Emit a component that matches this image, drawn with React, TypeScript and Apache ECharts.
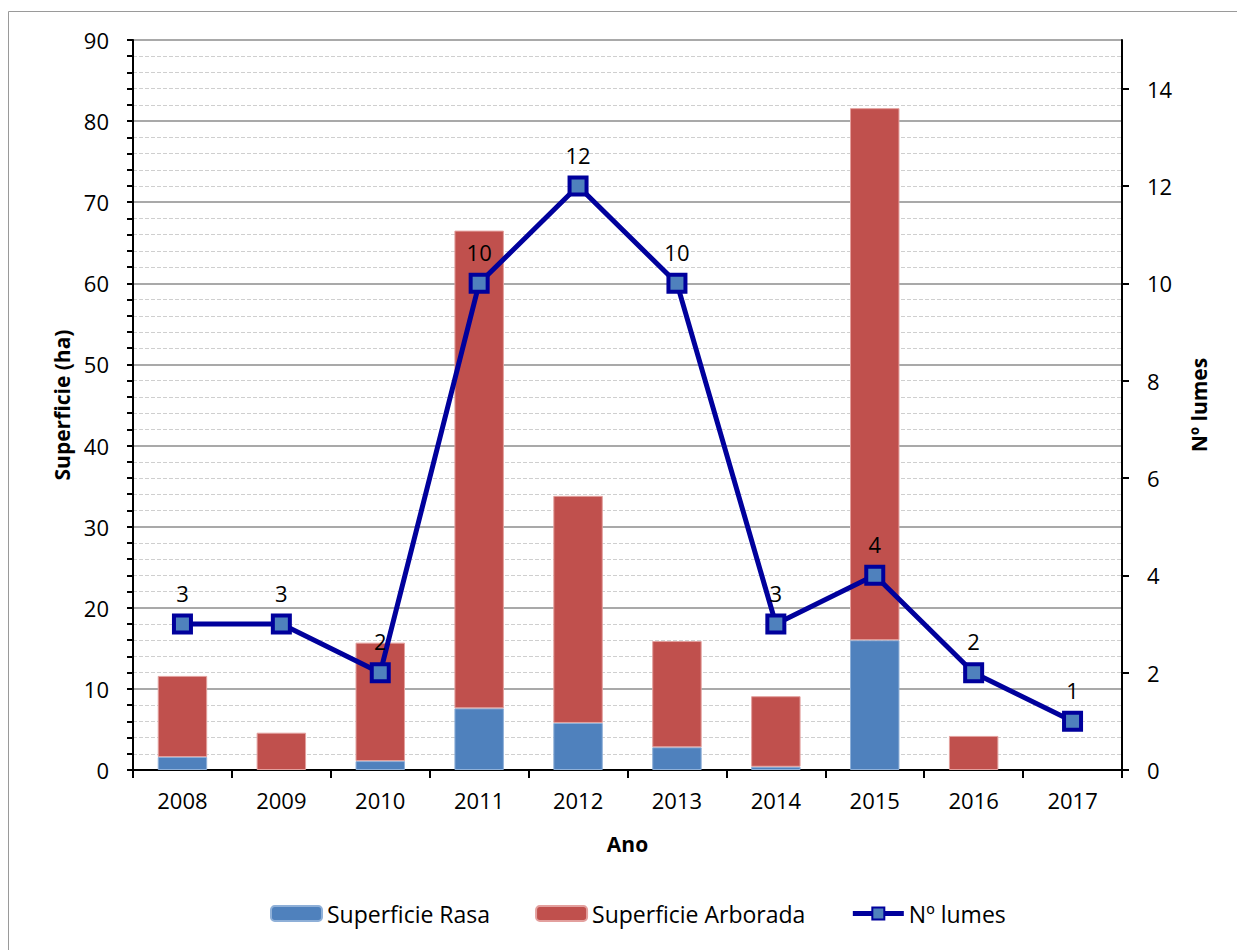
import React, { useEffect, useRef } from "react";
import * as echarts from "echarts";

const years = ["2008", "2009", "2010", "2011", "2012", "2013", "2014", "2015", "2016", "2017"];
const superficieRasa = [1.6, 0, 1.1, 7.6, 5.8, 2.8, 0.4, 16.0, 0, 0];
const superficieArborada = [10.0, 4.6, 14.6, 58.9, 28.0, 13.1, 8.7, 65.6, 4.2, 0];
const numLumes = [3, 3, 2, 10, 12, 10, 3, 4, 2, 1];

const FONT = "Open Sans";

export default function App() {
  const ref = useRef<HTMLDivElement>(null);
  useEffect(() => {
    if (!ref.current) return;
    const chart = echarts.init(ref.current, null, { renderer: "svg" });
    const nz = (arr: number[]) => arr.map((v) => (v === 0 ? null : v));
    chart.setOption({
      animation: false,
      backgroundColor: "#ffffff",
      textStyle: { fontFamily: FONT, color: "#000" },
      graphic: [
        {
          type: "rect",
          shape: { x: 8.5, y: 11.5, width: 1400, height: 1100 },
          style: { fill: "none", stroke: "#9a9a9a", lineWidth: 1 },
          silent: true,
          z: -10,
        },
      ],
      grid: { left: 133, right: 115, top: 40, bottom: 180 },
      legend: {
        bottom: 20,
        left: 265,
        itemWidth: 51,
        itemHeight: 15,
        itemGap: 45,
        textStyle: { fontFamily: FONT, fontSize: 23, color: "#000" },
        data: [
          { name: "Superficie Rasa" },
          { name: "Superficie Arborada" },
          { name: "Nº lumes", lineStyle: { width: 5, color: "#00009C" } },
        ],
      },
      xAxis: {
        type: "category",
        data: years,
        name: "Ano",
        nameLocation: "middle",
        nameGap: 63,
        nameTextStyle: { fontFamily: FONT, fontSize: 21, fontWeight: "bold", color: "#000" },
        axisLine: { lineStyle: { color: "#000", width: 2 } },
        axisTick: { show: true, alignWithLabel: false, length: 8, lineStyle: { color: "#000", width: 2 } },
        axisLabel: { fontFamily: FONT, fontSize: 22, color: "#000", margin: 19 },
      },
      yAxis: [
        {
          type: "value",
          min: 0,
          max: 90,
          interval: 10,
          name: "Superficie (ha)",
          nameLocation: "middle",
          nameGap: 56,
          nameTextStyle: { fontFamily: FONT, fontSize: 21, fontWeight: "bold", color: "#000" },
          axisLine: { show: true, lineStyle: { color: "#000", width: 2 } },
          axisTick: { show: true, length: 6, lineStyle: { color: "#000", width: 2 } },
          minorTick: { show: true, splitNumber: 5, length: 6, lineStyle: { color: "#000", width: 2 } },
          axisLabel: { fontFamily: FONT, fontSize: 22, color: "#000", margin: 24 },
          splitLine: { show: true, lineStyle: { color: "#8c8c8c", width: 1.5 } },
          minorSplitLine: { show: true, lineStyle: { color: "#cfcfcf", width: 1, type: "dashed" } },
        },
        {
          type: "value",
          min: 0,
          max: 15,
          interval: 2,
          position: "right",
          name: "Nº lumes",
          nameLocation: "middle",
          nameGap: 66,
          nameTextStyle: { fontFamily: FONT, fontSize: 21, fontWeight: "bold", color: "#000" },
          axisLine: { show: true, lineStyle: { color: "#000", width: 2 } },
          axisTick: { show: true, length: 7, lineStyle: { color: "#000", width: 2 } },
          axisLabel: { fontFamily: FONT, fontSize: 22, color: "#000", margin: 25, showMaxLabel: false },
          splitLine: { show: false },
        },
      ],
      series: [
        {
          name: "Superficie Rasa",
          type: "bar",
          stack: "sup",
          barWidth: "50%",
          yAxisIndex: 0,
          data: nz(superficieRasa),
          itemStyle: { color: "#4F81BD", borderColor: "#8fb0d8", borderWidth: 1 },
        },
        {
          name: "Superficie Arborada",
          type: "bar",
          stack: "sup",
          barWidth: "50%",
          yAxisIndex: 0,
          data: nz(superficieArborada),
          itemStyle: { color: "#C0504D", borderColor: "#e3a09e", borderWidth: 1 },
        },
        {
          name: "Nº lumes",
          type: "line",
          yAxisIndex: 1,
          data: numLumes,
          symbol: "rect",
          symbolSize: 17,
          lineStyle: { color: "#00009C", width: 5 },
          itemStyle: { color: "#4F81BD", borderColor: "#00009C", borderWidth: 4 },
          label: {
            show: true,
            position: "top",
            distance: 10,
            fontFamily: FONT,
            fontSize: 22,
            color: "#000",
          },
          z: 5,
        },
      ],
    });
    return () => chart.dispose();
  }, []);
  return (
    <div
      ref={ref}
      style={{ position: "fixed", left: 0, top: 0, width: 1237, height: 950 }}
    />
  );
}
